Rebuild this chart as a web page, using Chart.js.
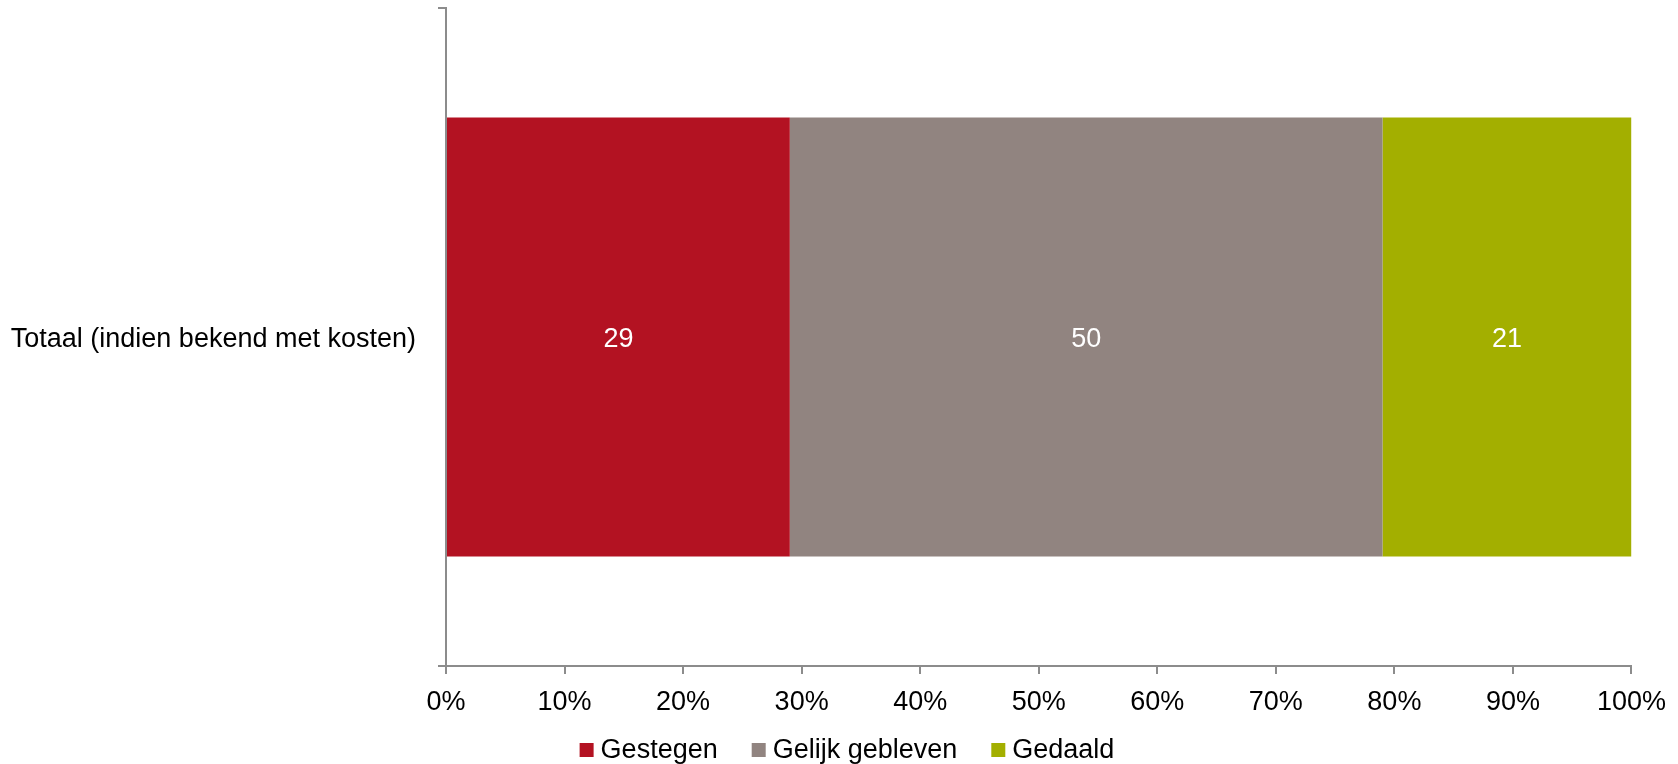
<!DOCTYPE html>
<html lang="nl">
  <head>
    <meta charset="UTF-8" />
    <title>Kosten</title>
    <style>
    html, body { margin: 0; padding: 0; background: #ffffff; }
    #wrap { width: 1678px; height: 764px; }
    </style>
    <script src="https://cdn.jsdelivr.net/npm/chart.js@4/dist/chart.umd.min.js"></script>
  </head>
  <body>
    <div id="wrap"><canvas id="chart" width="1678" height="764"></canvas></div>

    <script>
      // data
      const categories = ['Totaal (indien bekend met kosten)'];
      const seriesNames = ['Gestegen', 'Gelijk gebleven', 'Gedaald'];
      const gestegen = [29];
      const gelijk = [50];
      const gedaald = [21];
      const seriesColors = ['#B31222', '#918480', '#A3AF00'];

      const fontFamily = '"Liberation Sans", Arial, sans-serif';

      // white numbers in the middle of each bar piece
      const barValues = {
        id: 'barValues',
        afterDatasetsDraw(chart) {
          const ctx = chart.ctx;
          ctx.save();
          ctx.fillStyle = '#ffffff';
          ctx.font = '27px ' + fontFamily;
          ctx.textAlign = 'center';
          ctx.textBaseline = 'middle';
          chart.data.datasets.forEach((ds, i) => {
            chart.getDatasetMeta(i).data.forEach((bar, j) => {
              const p = bar.getProps(['x', 'y', 'base'], true);
              ctx.fillText(ds.data[j], (p.x + p.base) / 2, p.y + 3);
            });
          });
          ctx.restore();
        }
      };

      // legend drawn by hand so the box/text gaps look like the original
      const bottomLegend = {
        id: 'bottomLegend',
        afterDraw(chart) {
          const ctx = chart.ctx;
          const box = 14, gap = 7, itemGap = 34;
          const cy = 750, centerX = 847;
          ctx.save();
          ctx.font = '27px ' + fontFamily;
          ctx.textBaseline = 'middle';
          ctx.textAlign = 'left';
          const items = chart.data.datasets.map(ds => ({
            text: ds.label, color: ds.backgroundColor, w: ctx.measureText(ds.label).width
          }));
          let total = 0;
          items.forEach((it, i) => { total += box + gap + it.w + (i ? itemGap : 0); });
          let x = centerX - total / 2;
          items.forEach(it => {
            ctx.fillStyle = it.color;
            ctx.fillRect(x, cy - box / 2, box, box);
            ctx.fillStyle = '#000000';
            ctx.fillText(it.text, x + box + gap, cy + 1);
            x += box + gap + it.w + itemGap;
          });
          ctx.restore();
        }
      };

      const ctx = document.getElementById('chart').getContext('2d');
      const myChart = new Chart(ctx, {
        type: 'bar',
        data: {
          labels: categories,
          datasets: [
            { label: seriesNames[0], data: gestegen, backgroundColor: seriesColors[0] },
            { label: seriesNames[1], data: gelijk, backgroundColor: seriesColors[1] },
            { label: seriesNames[2], data: gedaald, backgroundColor: seriesColors[2] }
          ]
        },
        options: {
          indexAxis: 'y',
          responsive: false,
          animation: false,
          categoryPercentage: 1,
          barPercentage: 0.667,
          layout: { padding: { left: 0, right: 46, top: 8, bottom: 48 } },
          plugins: {
            tooltip: { enabled: false },
            legend: { display: false }
          },
          scales: {
            x: {
              stacked: true,
              min: 0,
              max: 100,
              ticks: {
                stepSize: 10,
                padding: 12,
                color: '#000000',
                font: { family: fontFamily, size: 27 },
                callback: v => v + '%'
              },
              grid: { drawOnChartArea: false, tickLength: 8, color: '#8c8c8c', lineWidth: 2 },
              border: { color: '#8c8c8c', width: 2 },
              afterFit: scale => { scale.height = 50; }
            },
            y: {
              stacked: true,
              ticks: {
                padding: 22,
                labelOffset: 3,
                color: '#000000',
                font: { family: fontFamily, size: 27 }
              },
              grid: { drawOnChartArea: false, tickLength: 8, color: '#8c8c8c', lineWidth: 2 },
              border: { color: '#8c8c8c', width: 2 },
              afterFit: scale => {
                scale.width = 446;
                scale.paddingTop = 0;
                scale.paddingBottom = 0;
              }
            }
          }
        },
        plugins: [barValues, bottomLegend]
      });
    </script>
  </body>
</html>
